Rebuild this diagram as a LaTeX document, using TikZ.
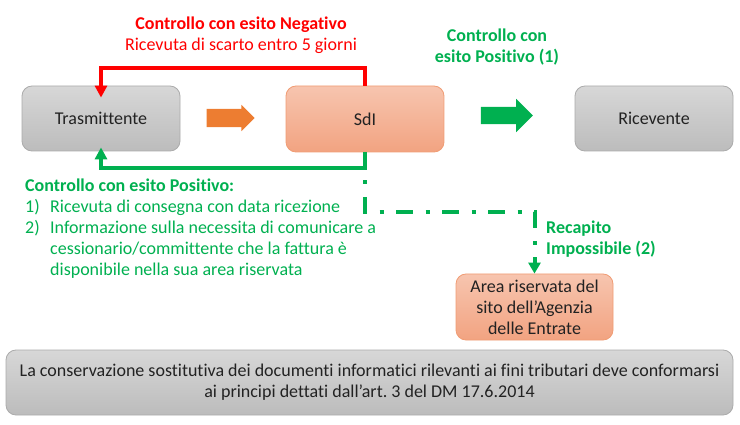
\documentclass[tikz,border=0pt]{standalone}
\usepackage{fontspec}
\setmainfont{Carlito}[Ligatures=NoCommon]
\usetikzlibrary{arrows.meta,shapes.arrows}
\definecolor{grigioA}{HTML}{D7D7D7}
\definecolor{grigioB}{HTML}{BCBCBC}
\definecolor{grigioL}{HTML}{ABABAB}
\definecolor{salmoneA}{HTML}{F7C5AF}
\definecolor{salmoneB}{HTML}{F2A381}
\definecolor{salmoneL}{HTML}{F09C74}
\definecolor{arancio}{HTML}{ED7D31}
\definecolor{verde}{HTML}{00B050}
\definecolor{rosso}{HTML}{FF0000}
\definecolor{testo}{HTML}{222222}
\frenchspacing
\begin{document}
\begin{tikzpicture}[x=1pt,y=-1pt,font=\fontsize{18pt}{21pt}\selectfont,
    grigio/.style={rounded corners=10pt,draw=grigioL,line width=.8pt,top color=grigioA,bottom color=grigioB,text=testo,align=center},
    salmone/.style={rounded corners=10pt,draw=salmoneL,line width=.8pt,top color=salmoneA,bottom color=salmoneB,text=testo,align=center},
    freccia/.style={single arrow,draw=none,inner sep=0pt,minimum width=1pt},
    ritorno/.style={line width=4pt,-{Triangle[width=12pt,length=12pt]}}]
\useasboundingbox (0,0) rectangle (740,425);
% attori
\node[grigio,minimum width=158pt,minimum height=65pt] (tras) at (101,118.5) {Trasmittente};
\node[salmone,minimum width=158pt,minimum height=66pt] (sdi) at (365,119) {SdI};
\node[grigio,minimum width=158pt,minimum height=65pt] (ric) at (654,118.5) {Ricevente};
\node[salmone,minimum width=157pt,minimum height=66pt,inner sep=0pt] (area) at (534.5,307) {Area riservata del\\sito dell’Agenzia\\delle Entrate};
\node[grigio,minimum width=727pt,minimum height=65pt,inner sep=0pt] (nota) at (369.5,382.5) {La conservazione sostitutiva dei documenti informatici rilevanti ai fini tributari deve conformarsi\\ai principi dettati dall’art. 3 del DM 17.6.2014};
% frecce piene
\node[freccia,fill=arancio,minimum height=48pt,inner ysep=9pt,single arrow head extend=4pt] (invio) at (226,118) {};
\node[freccia,fill=verde,minimum height=52pt,inner ysep=8.5pt,single arrow head extend=8pt] (consegna) at (502.5,115.5) {};
% etichette
\node[rosso,anchor=north,align=center,inner sep=0pt] (negativo) at (241,17) {\textbf{Controllo con esito Negativo}\\Ricevuta di scarto entro 5 giorni};
\node[verde,anchor=north,align=center,inner sep=0pt] (positivo) at (497,29) {\textbf{Controllo con}\\\textbf{esito Positivo (1)}};
\node[verde,anchor=north west,align=left,inner sep=0pt] (esito) at (25,179) {\textbf{Controllo con esito Positivo:}\\
    \makebox[25pt][l]{1)}Ricevuta di consegna con data ricezione\\
    \makebox[25pt][l]{2)}Informazione sulla necessita di comunicare a\\
    \hspace*{25pt}cessionario/committente che la fattura è\\
    \hspace*{25pt}disponibile nella sua area riservata};
\node[verde,anchor=north west,align=left,inner sep=0pt] (recapito) at (546,221) {\textbf{Recapito}\\\textbf{Impossibile (2)}};
% connettori
\coordinate (bivio) at (365,168);
\draw[ritorno,rosso,shorten >=-12pt] (sdi.north) -- ++(0,-18) -| (tras.north);
\draw[ritorno,verde,shorten >=-4pt] (sdi.south) -- (bivio) -| (tras.south);
\draw[verde,line width=4pt,dash pattern=on 17pt off 12.5pt on 4pt off 12.5pt,dash phase=17pt,-{Triangle[width=12pt,length=11pt]}] (bivio) -- ++(0,44) -| (area.north);
\end{tikzpicture}
\end{document}
